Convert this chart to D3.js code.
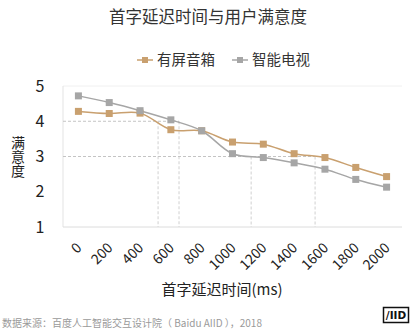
<!DOCTYPE html>
<html><head><meta charset="utf-8">
<script src="https://cdn.jsdelivr.net/npm/d3@7/dist/d3.min.js"></script>
<style>
body{margin:0;background:#fff;}
text{font-family:"Noto Sans CJK SC","Noto Sans",sans-serif;}
</style></head>
<body>
<svg id="c" width="415" height="332"></svg>
<script>
const categories = ["0","200","400","600","800","1000","1200","1400","1600","1800","2000"];
const speakerValues = [4.28,4.22,4.23,3.76,3.73,3.41,3.35,3.08,2.97,2.69,2.43];
const tvValues = [4.72,4.53,4.30,4.04,3.73,3.08,2.97,2.82,2.64,2.35,2.13];
const seriesNames = ["有屏音箱","智能电视"];
const yTicks = [1,2,3,4,5];
const thresholdLevels = [4,3];
const thresholdCrossMs = [[517,653],[1121,1536]];
const title = "首字延迟时间与用户满意度";
const xTitle = "首字延迟时间(ms)";
const yTitle = "满意度";
const sourceText = "数据来源：百度人工智能交互设计院（ Baidu AIID ），2018";

const colors = ["#c9a06f","#a6a6a6"];
const svg = d3.select("#c");
const L=63, R=402, T=86, B=227;
const x = d3.scalePoint(categories,[L,R]).padding(0.5);
const xms = d3.scaleLinear([0,2000],[x("0"),x("2000")]);
const y = d3.scaleLinear([1,5],[B,T]);

// plot frame
svg.append("line").attr("x1",L).attr("x2",R).attr("y1",T).attr("y2",T).attr("stroke","#f0f0f0");
svg.append("line").attr("x1",L).attr("x2",L).attr("y1",T).attr("y2",B).attr("stroke","#e3e3e3");
svg.append("line").attr("x1",L).attr("x2",R).attr("y1",B).attr("y2",B).attr("stroke","#dcdcdc");

// threshold dashed lines
thresholdLevels.forEach((lv,i)=>{
  const xs = thresholdCrossMs[i];
  svg.append("line").attr("x1",L).attr("x2",xms(d3.max(xs))).attr("y1",y(lv)).attr("y2",y(lv))
    .attr("stroke","#c4c4c4").attr("stroke-dasharray","3,2");
  xs.forEach(m=>{
    svg.append("line").attr("x1",xms(m)).attr("x2",xms(m)).attr("y1",y(lv)).attr("y2",B)
      .attr("stroke","#d0d0d0").attr("stroke-dasharray","3,2");
  });
});

// y axis labels
const yAxis = d3.axisLeft(y).tickValues(yTicks).tickSize(0).tickPadding(0).tickFormat(d3.format("d"));
const ya = svg.append("g").attr("transform",`translate(46,0)`).call(yAxis);
ya.select(".domain").remove();
ya.selectAll("text").attr("font-size",16).attr("fill","#222").attr("text-anchor","middle").attr("x",-6)
  .style("font-family",'"Noto Sans CJK SC",sans-serif');

// x axis labels
const xAxis = d3.axisBottom(x).tickSize(0).tickPadding(0);
const xa = svg.append("g").attr("transform",`translate(0,${B})`).call(xAxis);
xa.select(".domain").remove();
xa.selectAll("text").attr("font-size",14).attr("fill","#222").attr("text-anchor","end")
  .attr("dy",null).attr("y",null)
  .attr("transform","translate(1,19) rotate(-45)")
  .attr("dominant-baseline","middle")
  .style("font-family",'"Noto Sans CJK SC",sans-serif');

// lines
const line = d3.line().x((d,i)=>x(categories[i])).y(d=>y(d)).curve(d3.curveCatmullRom.alpha(0.5));
[speakerValues,tvValues].forEach((vals,k)=>{
  svg.append("path").datum(vals).attr("d",line).attr("fill","none").attr("stroke",colors[k]).attr("stroke-width",1.5);
});
[speakerValues,tvValues].forEach((vals,k)=>{
  svg.append("g").selectAll("rect").data(vals).join("rect")
    .attr("x",(d,i)=>x(categories[i])-3.5).attr("y",d=>y(d)-3.5)
    .attr("width",7).attr("height",7).attr("fill",colors[k]);
});

// title
svg.append("text").attr("x",208).attr("y",23).attr("text-anchor","middle").attr("font-size",16.5)
  .attr("fill","#333").text(title);

// legend
const legX = [137,232];
seriesNames.forEach((n,k)=>{
  const g = svg.append("g").attr("transform",`translate(${legX[k]},60)`);
  g.append("line").attr("x1",0).attr("x2",16).attr("stroke",colors[k]).attr("stroke-width",1.5);
  g.append("rect").attr("x",5).attr("y",-3).attr("width",6).attr("height",6).attr("fill",colors[k]);
  g.append("text").attr("x",20).attr("y",0).attr("dy","0.35em").attr("font-size",14.5).attr("fill","#333").text(n);
});

// y title (vertical)
svg.append("text").attr("x",18).attr("y",157).attr("text-anchor","middle")
  .style("writing-mode","vertical-rl").attr("font-size",14).attr("fill","#222").text(yTitle);

// x title
svg.append("text").attr("x",222).attr("y",290).attr("dy","0.35em").attr("text-anchor","middle")
  .attr("font-size",15).attr("fill","#222").text(xTitle);

// source
svg.append("text").attr("x",2).attr("y",323).attr("dy","0.35em").attr("font-size",10)
  .attr("fill","#9a9a9a").text(sourceText);

// logo
svg.append("rect").attr("x",383.5).attr("y",307.5).attr("width",25).attr("height",15)
  .attr("fill","none").attr("stroke","#111").attr("stroke-width",1.5);
svg.append("text").attr("x",396).attr("y",315.5).attr("dy","0.35em").attr("text-anchor","middle")
  .attr("font-size",10.5).attr("font-weight","bold").attr("fill","#111")
  .style("font-family","'DejaVu Sans',sans-serif").text("/IID");
</script>
</body></html>
